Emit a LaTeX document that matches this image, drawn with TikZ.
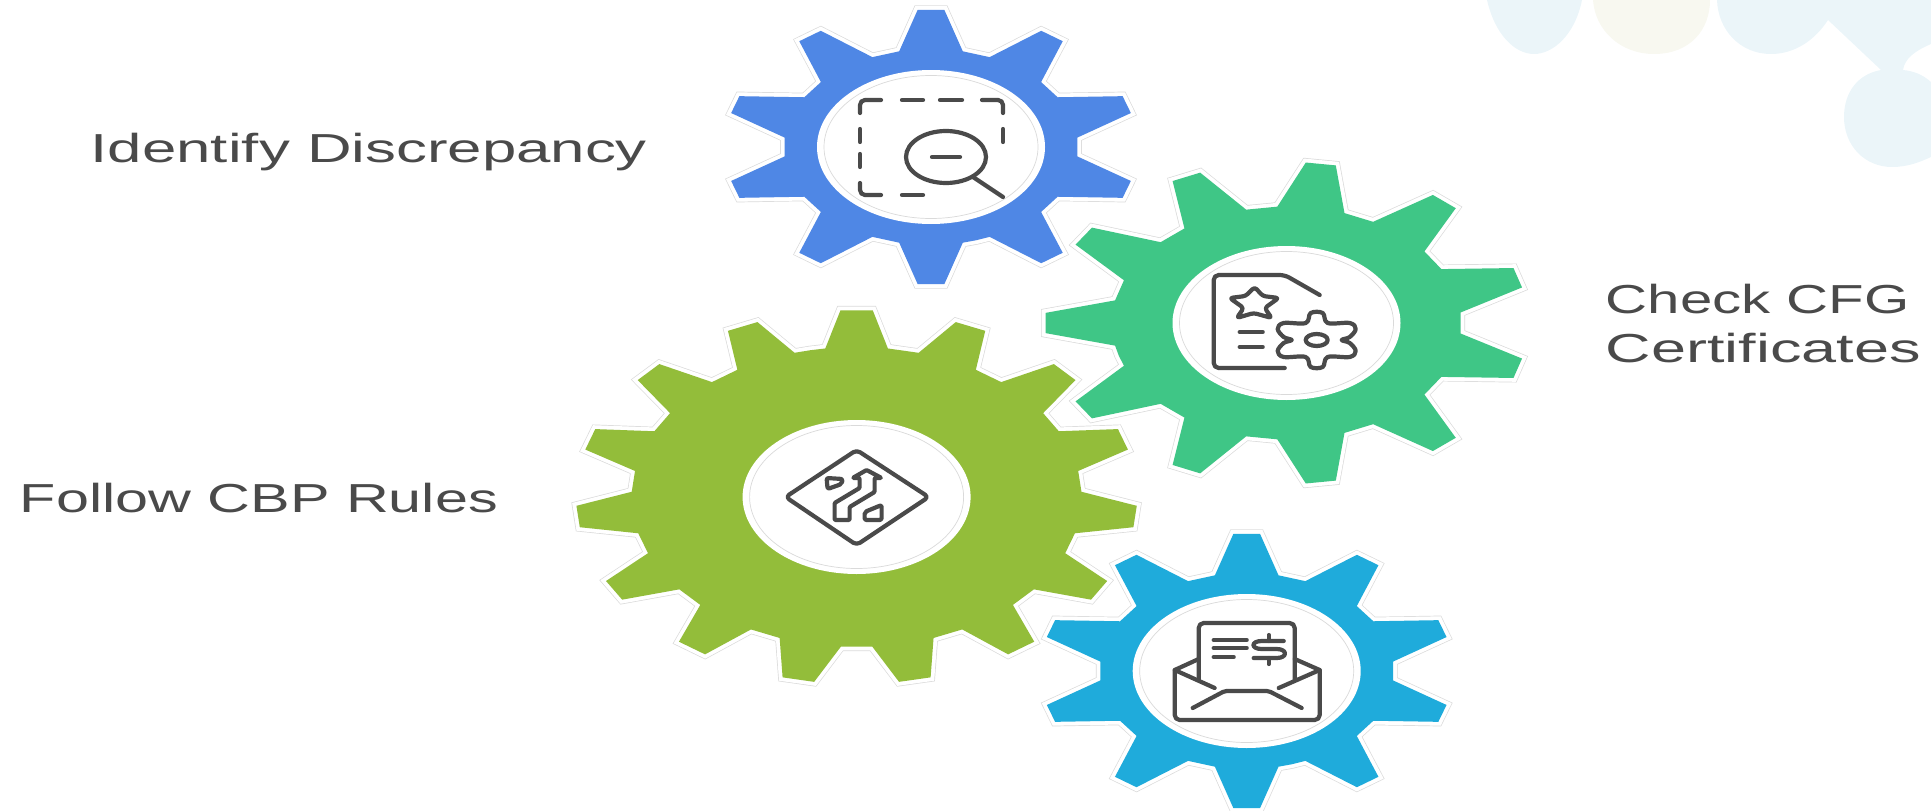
\documentclass[tikz,border=0pt]{standalone}
\usepackage{fontspec}
\setmainfont{Liberation Sans}
\definecolor{bluegear}{HTML}{4F87E5}
\definecolor{greengear}{HTML}{3FC686}
\definecolor{limegear}{HTML}{93BD3A}
\definecolor{skygear}{HTML}{1FABDB}
\definecolor{inkgray}{HTML}{4A4A4A}
\definecolor{ringgray}{HTML}{DADADA}
\definecolor{paleblue}{HTML}{EBF5F9}
\definecolor{palecream}{HTML}{F8F8F0}

\begin{document}
\begin{tikzpicture}[x=1pt, y=-1pt, lbl/.style={font=\fontsize{40.5}{49}\selectfont, text=inkgray, anchor=base west, inner sep=0pt}, ico/.style={draw=inkgray, line width=4.2pt, line cap=round, line join=round}, halo/.style={draw=ringgray, line width=9pt, miter limit=10}, halotop/.style={draw=white, line width=7.6pt, miter limit=10}]
    \useasboundingbox (0,0) rectangle (1931,811);
    \clip (0,0) rectangle (1931,811);
    % background
    \fill[paleblue] (1487,0) .. controls (1495,35) and (1515,54) .. (1534,54) .. controls (1553,54) and (1575,35) .. (1582,0) -- cycle;
    \fill[palecream] (1593,0) .. controls (1595,30) and (1620,54) .. (1654,54) .. controls (1690,54) and (1710,30) .. (1710,0) -- cycle;
    \fill[paleblue] (1717,0) .. controls (1718,30) and (1740,54) .. (1771,54) .. controls (1795,54) and (1815,40) .. (1828,20) -- (1881,70) .. controls (1858,74) and (1844,92) .. (1844,117) .. controls (1844,146) and (1865,167) .. (1892,167) .. controls (1908,167) and (1920,162) .. (1931,157) -- (1931,82) .. controls (1922,74) and (1913,71) .. (1903,70) .. controls (1905,58) and (1915,51) .. (1931,44) -- (1931,0) -- cycle;
    % gears
    \foreach \cx/\cy/\teeth/\phase/\ro/\rr/\rootang/\tipang/\col in {931/147/10/90/137.5/98/12.5/3.7/bluegear, 1286.5/323/11/180/161/116.5/11.2/3.6/greengear, 856.6/497/15/270/187/150/8/3.3/limegear, 1246.7/671/10/90/137.5/98/12.5/3.7/skygear} {
        \pgfmathsetmacro{\pitch}{360/\teeth}
        \pgfmathtruncatemacro{\lastk}{\teeth-1}
        \begin{scope}[shift={(\cx,\cy)}, xscale=1.5]
            \path[preaction={halo}, preaction={halotop}, fill=\col] ({\phase-\pitch/2}:\rr)
                \foreach \k in {0,...,\lastk} {
                    -- ({\phase+\k*\pitch-\rootang}:\rr) -- ({\phase+\k*\pitch-\tipang}:\ro)
                    -- ({\phase+\k*\pitch+\tipang}:\ro) -- ({\phase+\k*\pitch+\rootang}:\rr)
                } -- cycle;
        \end{scope}
        \fill[white] (\cx,\cy) ellipse [x radius=114, y radius=77];
        \draw[ringgray, line width=0.7pt] (\cx,\cy) ellipse [x radius=107, y radius=71.5];
    }
    % magnifier icon
    \begin{scope}[shift={(931,147)}]
        \draw[ico, rounded corners=5pt] (-71,-34) -- (-71,-47) -- (-50,-47);
        \draw[ico] (-29,-47) -- (-8,-47);
        \draw[ico] (9,-47) -- (31,-47);
        \draw[ico, rounded corners=5pt] (51,-47) -- (72,-47) -- (72,-34);
        \draw[ico] (72,-18) -- (72,-5);
        \draw[ico] (-71,-18) -- (-71,-5);
        \draw[ico] (-71,7) -- (-71,20);
        \draw[ico, rounded corners=5pt] (-71,36) -- (-71,48) -- (-50,48);
        \draw[ico] (-29,48) -- (-8,48);
        \draw[ico] (15,10) ellipse [x radius=40, y radius=26];
        \draw[ico] (1,10) -- (29,10);
        \draw[ico] (42,30) -- (72,50);
    \end{scope}
    % document icon
    \begin{scope}[shift={(1285.7,323)}]
        \draw[ico, rounded corners=5pt] (34,-28) -- (-1,-48) -- (-72,-48) -- (-72,45) -- (-1,45);
        \draw[ico, rounded corners=3pt] (-31,-36) -- (-23,-27) -- (-7,-25) -- (-21,-15) -- (-14,-5) -- (-32,-10) -- (-49,-5) -- (-42,-15) -- (-56,-25) -- (-40,-27) -- cycle;
        \draw[ico] (-46,9) -- (-23,9);
        \draw[ico] (-46,24) -- (-23,24);
        \begin{scope}[shift={(31,17)}]
            \draw[ico] plot[smooth cycle, tension=0.6] coordinates {(-6,-27) (6,-27) (11,-17) (33,-17) (39,-11) (33,-3) (25,0) (33,3) (39,11) (33,17) (11,17) (6,27) (-6,27) (-11,17) (-33,17) (-39,11) (-33,3) (-25,0) (-33,-3) (-39,-11) (-33,-17) (-11,-17)};
            \draw[ico] (0,0) ellipse [x radius=11, y radius=6];
        \end{scope}
    \end{scope}
    % road icon
    \begin{scope}[shift={(856.6,497)}]
        \draw[ico, rounded corners=4pt] (0,-47) -- (72,0) -- (0,48) -- (-71,0) -- cycle;
        \draw[ico, rounded corners=2pt] (-30,-19) -- (-14,-18) -- (-15,-13) -- (-29,-8) -- cycle;
        \draw[ico, rounded corners=2pt] (8,23) -- (8,15) -- (25,8) -- (25,23) -- cycle;
        \draw[ico, rounded corners=1pt] (-22,23) -- (-22,6) -- (3,-9) -- (3,-19) -- (-4,-19) -- (10,-27) -- (25,-19) -- (18,-19) -- (18,-5) -- (-7,10) -- (-7,23) -- cycle;
    \end{scope}
    % envelope icon
    \begin{scope}[shift={(1246.7,671)}]
        \draw[ico, rounded corners=5pt] (-72,-1) -- (-72,49) -- (73,49) -- (73,-1);
        \draw[ico] (-48,-12) -- (-72,-1) -- (-32,17);
        \draw[ico] (48,-12) -- (73,-1) -- (32,17);
        \draw[ico, rounded corners=2pt] (-54,37) -- (-22,20) -- (22,20) -- (55,37);
        \draw[ico, rounded corners=5pt] (-48,9) -- (-48,-48) -- (48,-48) -- (48,9);
        \draw[ico] (-33,-31) -- (0,-31);
        \draw[ico] (-33,-23) -- (0,-23);
        \draw[ico] (-33,-14) -- (-13,-14);
        \draw[ico] (37,-30) -- (15,-30) .. controls (4,-30) and (4,-22) .. (15,-22) -- (30,-22) .. controls (41,-22) and (41,-13) .. (30,-13) -- (7,-13);
        \draw[ico] (22,-36) -- (22,-30);
        \draw[ico] (22,-13) -- (22,-7);
    \end{scope}
    % labels
    \node[lbl, xscale=1.525] (identify) at (90.5,162) {Identify Discrepancy};
    \node[lbl, xscale=1.437] (checkcfg) at (1605.5,313) {Check CFG};
    \node[lbl, xscale=1.555] (certs) at (1605.5,362) {Certificates};
    \node[lbl, xscale=1.465] (follow) at (19.5,512) {Follow CBP Rules};
\end{tikzpicture}
\end{document}
